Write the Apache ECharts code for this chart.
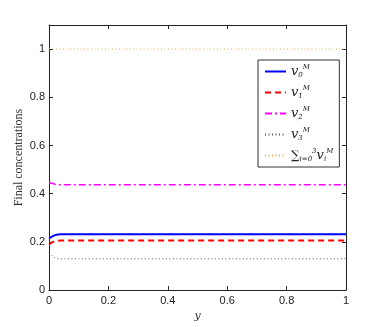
<!DOCTYPE html>
<html lang="en">
<head>
	<meta charset="UTF-8">
	<script src="https://cdn.jsdelivr.net/npm/echarts@6/dist/echarts.min.js"></script>
	<title>Final concentrations</title>
</head>
<body style="margin:0;background:#fff;">
<div id="main" style="width:382px;height:327px;"></div>
<script type="text/javascript">
	// y grid
	var yPos = [0, 0.01, 0.02, 0.03, 0.04, 0.1, 0.2, 0.3, 0.4, 0.5, 0.6, 0.7, 0.8, 0.9, 1];
	var v0 = [0.215, 0.222, 0.228, 0.231, 0.232, 0.232, 0.232, 0.232, 0.232, 0.232, 0.232, 0.232, 0.232, 0.232, 0.232];
	var v1 = [0.19, 0.198, 0.203, 0.205, 0.206, 0.206, 0.206, 0.206, 0.206, 0.206, 0.206, 0.206, 0.206, 0.206, 0.206];
	var v2 = [0.445, 0.443, 0.439, 0.437, 0.437, 0.437, 0.437, 0.437, 0.437, 0.437, 0.437, 0.437, 0.437, 0.437, 0.437];
	var v3 = [0.156, 0.143, 0.135, 0.131, 0.13, 0.13, 0.13, 0.13, 0.13, 0.13, 0.13, 0.13, 0.13, 0.13, 0.13];
	var vSum = [1, 1, 1, 1, 1, 1, 1, 1, 1, 1, 1, 1, 1, 1, 1];
	var xTicks = [0, 0.2, 0.4, 0.6, 0.8, 1];

	var names = ['v0', 'v1', 'v2', 'v3', 'sum'];
	var legendText = {
		v0: '{v|v}{sub|0}{sup|M}',
		v1: '{v|v}{sub|1}{sup|M}',
		v2: '{v|v}{sub|2}{sup|M}',
		v3: '{v|v}{sub|3}{sup|M}',
		sum: '{sig|∑}{sub|i=0}{sup|3}{v|v}{sub|i}{sup|M}'
	};

	function pairs(arr) {
		return arr.map(function (v, i) { return [yPos[i], v]; });
	}

	var axisCol = '#222';
	var chart = echarts.init(document.getElementById('main'));
	var lineSeries = function (name, data, color, type, width) {
		return {
			name: name, type: 'line', data: pairs(data), symbol: 'none',
			lineStyle: { color: color, width: width, type: type },
			itemStyle: { color: color },
			animation: false
		};
	};

	chart.setOption({
		animation: false,
		grid: { left: 49, right: 36, top: 25, bottom: 36 },
		legend: {
			orient: 'vertical',
			left: 258, top: 60,
			width: 78,
			itemWidth: 21, itemHeight: 10, itemGap: 6,
			padding: [4, 6, 4, 6],
			borderColor: '#333', borderWidth: 1,
			backgroundColor: '#fff',
			itemStyle: { opacity: 0 },
			data: names,
			formatter: function (n) { return legendText[n]; },
			textStyle: {
				fontFamily: 'DejaVu Serif', fontStyle: 'italic', fontSize: 13, color: '#222',
				lineHeight: 15,
				rich: {
					v: { fontFamily: 'DejaVu Serif', fontStyle: 'italic', fontSize: 13, color: '#222', verticalAlign: 'middle' },
					sig: { fontFamily: 'DejaVu Serif', fontSize: 12, color: '#222' },
					sub: { fontFamily: 'DejaVu Serif', fontSize: 7, color: '#222', verticalAlign: 'bottom' },
					sup: { fontFamily: 'DejaVu Serif', fontStyle: 'italic', fontSize: 7, color: '#222', verticalAlign: 'top' }
				}
			}
		},
		xAxis: [{
			type: 'value', min: 0, max: 1, interval: 0.2,
			name: 'y', nameLocation: 'middle', nameGap: 20,
			nameTextStyle: { fontFamily: 'DejaVu Serif', fontStyle: 'italic', fontSize: 11, color: '#333' },
			axisLine: { onZero: false, lineStyle: { color: axisCol } },
			axisTick: { inside: true, length: 4, lineStyle: { color: axisCol } },
			axisLabel: { fontFamily: 'Liberation Sans', fontSize: 11, color: '#222', margin: 5,
				formatter: function (v) { return xTicks.indexOf(v) >= 0 ? String(v) : ''; } },
			splitLine: { show: false }
		}, {
			type: 'value', min: 0, max: 1, interval: 0.2, position: 'top',
			axisLine: { show: true, onZero: false, lineStyle: { color: axisCol } },
			axisTick: { show: true, inside: true, length: 4, lineStyle: { color: axisCol } },
			axisLabel: { show: false }, splitLine: { show: false }
		}],
		yAxis: [{
			type: 'value', min: 0, max: 1.1, interval: 0.2,
			name: 'Final concentrations', nameLocation: 'middle', nameGap: 24,
			nameMoveOverlap: false,
			nameTextStyle: { fontFamily: 'Liberation Serif', fontSize: 12, color: '#333' },
			axisLine: { show: true, onZero: false, lineStyle: { color: axisCol } },
			axisTick: { show: true, inside: true, length: 4, lineStyle: { color: axisCol } },
			axisLabel: { fontFamily: 'Liberation Sans', fontSize: 11, color: '#222', margin: 4,
				showMaxLabel: false },
			splitLine: { show: false }
		}, {
			type: 'value', min: 0, max: 1.1, interval: 0.2, position: 'right',
			axisLine: { show: true, onZero: false, lineStyle: { color: axisCol } },
			axisTick: { show: true, inside: true, length: 4, lineStyle: { color: axisCol } },
			axisLabel: { show: false }, splitLine: { show: false }
		}],
		series: [
			lineSeries('v0', v0, '#0000ff', 'solid', 2),
			lineSeries('v1', v1, '#ff0000', [6, 4], 2),
			lineSeries('v2', v2, '#ff00ff', [7, 3, 2, 3], 1.5),
			lineSeries('v3', v3, '#555555', [1, 2.5], 1),
			lineSeries('sum', vSum, '#e8a84c', [1, 2.5], 1)
		]
	});
</script>
</body>
</html>
